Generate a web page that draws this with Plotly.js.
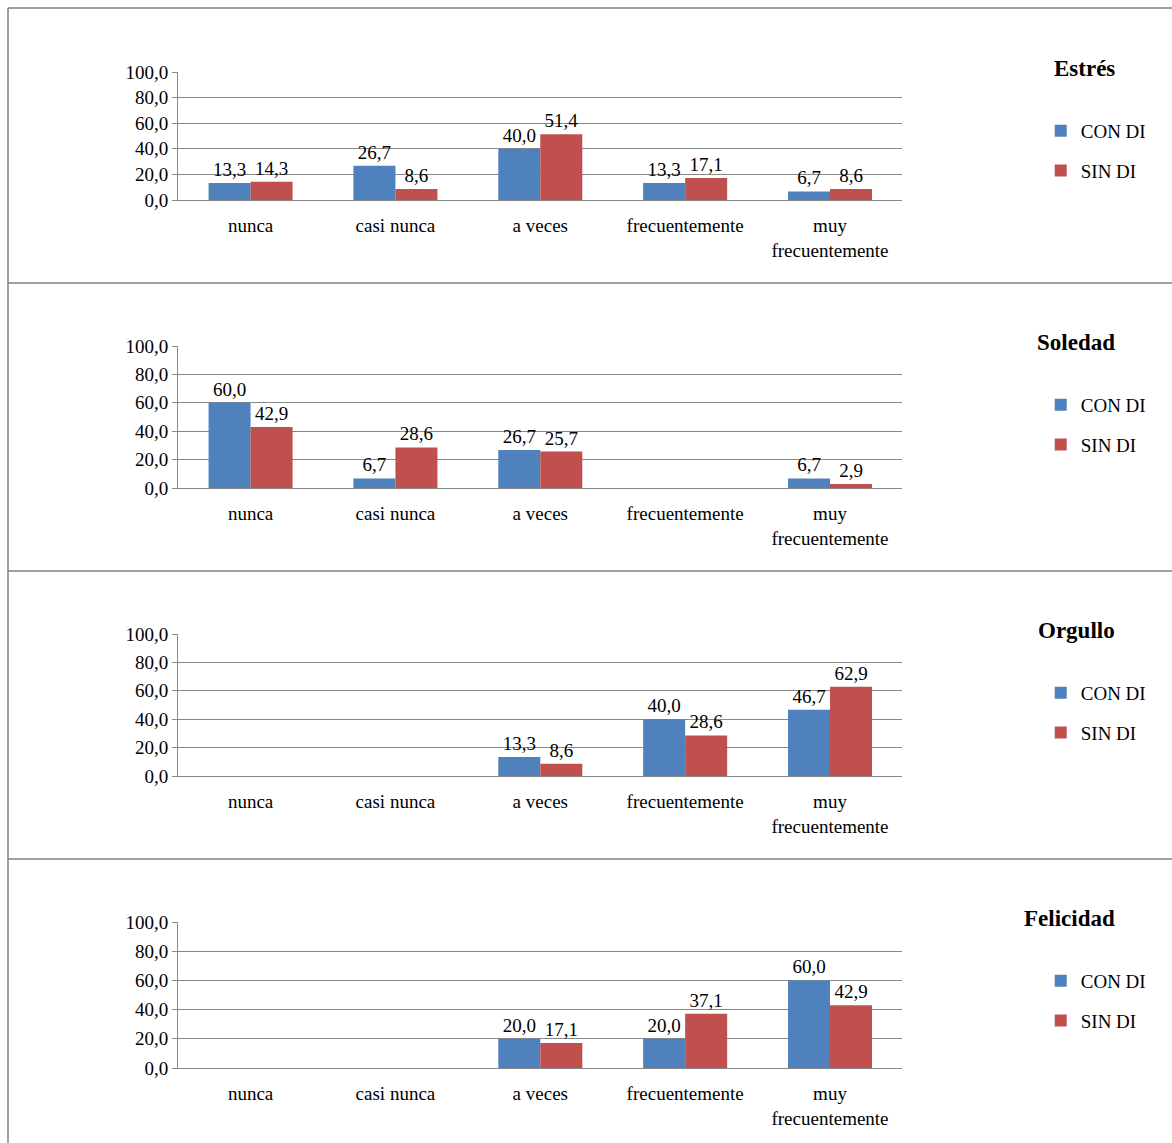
<!DOCTYPE html>
<html>
<head>
<meta charset="utf-8">
<script src="https://cdn.plot.ly/plotly-3.0.1.min.js"></script>
<style>body{margin:0;background:#fff}</style>
</head>
<body>
<div id="chart" style="width:1172px;height:1143px"></div>
<script>
const categories = ["nunca", "casi nunca", "a veces", "frecuentemente", "muy<br>frecuentemente"];
const panelTitles = ["Estrés", "Soledad", "Orgullo", "Felicidad"];
const conDI = [
  [13.3, 26.7, 40.0, 13.3, 6.7],
  [60.0, 6.7, 26.7, 0, 6.7],
  [0, 0, 13.3, 40.0, 46.7],
  [0, 0, 20.0, 20.0, 60.0]
];
const sinDI = [
  [14.3, 8.6, 51.4, 17.1, 8.6],
  [42.9, 28.6, 25.7, 0, 2.9],
  [0, 0, 8.6, 28.6, 62.9],
  [0, 0, 17.1, 37.1, 42.9]
];
const yTicks = [0, 20, 40, 60, 80, 100];

const serif = "Liberation Serif, Times New Roman, serif";
const blue = "#4F81BD", red = "#C0504D";
const H = 1143, W = 1172;
// [y of zero, y of 100] in px per panel
const panelPx = [[200, 72], [488, 346], [776, 634], [1068, 922]];
const fmt = v => v === 0 ? "" : v.toFixed(1).replace(".", ",");

const traces = [];
const layout = {
  width: W, height: H, margin: {l: 0, r: 0, t: 0, b: 0},
  paper_bgcolor: "#fff", plot_bgcolor: "rgba(0,0,0,0)",
  separators: ",.", barmode: "group", bargap: 0.42, bargroupgap: 0,
  font: {family: serif, size: 19, color: "#000"},
  annotations: [], shapes: []
};

panelTitles.forEach((title, i) => {
  const n = i === 0 ? "" : String(i + 1);
  const [y0, y1] = panelPx[i];
  const ldg = "legend" + n;
  [[conDI[i], "CON DI", blue], [sinDI[i], "SIN DI", red]].forEach(([vals, name, col]) => {
    traces.push({
      type: "bar", x: categories, y: vals, name: name,
      xaxis: "x" + n, yaxis: "y" + n, legend: ldg, legendgroup: name + n,
      marker: {color: col, line: {width: 0}},
      text: vals.map(fmt), textposition: "outside", cliponaxis: false,
      textfont: {family: serif, size: 19, color: "#000"}
    });
  });
  layout["xaxis" + n] = {
    domain: [0.152, 0.77], anchor: "y" + n, showline: true, linecolor: "#888",
    tickfont: {family: serif, size: 19}, ticks: "outside", ticklen: 8, tickcolor: "rgba(0,0,0,0)",
    fixedrange: true
  };
  layout["yaxis" + n] = {
    domain: [1 - y0 / H, 1 - y1 / H], anchor: "x" + n, range: [0, 100],
    tickvals: yTicks, tickformat: ".1f", showgrid: true, gridcolor: "#888",
    showline: true, linecolor: "#888", ticks: "outside", ticklen: 5, tickcolor: "#888",
    tickfont: {family: serif, size: 19}
  };
  layout[ldg] = {
    x: 0.888, y: 1 - (y1 + 40) / H, xanchor: "left", yanchor: "top",
    font: {family: serif, size: 19}, itemwidth: 30, traceorder: "grouped", tracegroupgap: 12,
    itemsizing: "constant", bgcolor: "rgba(0,0,0,0)"
  };
  layout.annotations.push({
    text: "<b>" + title + "</b>", xref: "paper", yref: "paper",
    x: 1117 / W, y: 1 - (y1 - 4) / H, xanchor: "right", yanchor: "middle", showarrow: false,
    font: {family: serif, size: 23}
  });
});

// panel frame lines
[8, 283, 571, 859].forEach(py => {
  layout.shapes.push({type: "line", xref: "paper", yref: "paper", x0: 8 / W, x1: 1,
    y0: 1 - py / H, y1: 1 - py / H, line: {color: "#808080", width: 1.5}});
});
layout.shapes.push({type: "line", xref: "paper", yref: "paper", x0: 8 / W, x1: 8 / W,
  y0: 0, y1: 1 - 8 / H, line: {color: "#808080", width: 1.5}});

Plotly.newPlot("chart", traces, layout, {displayModeBar: false, staticPlot: true});
</script>
</body>
</html>
